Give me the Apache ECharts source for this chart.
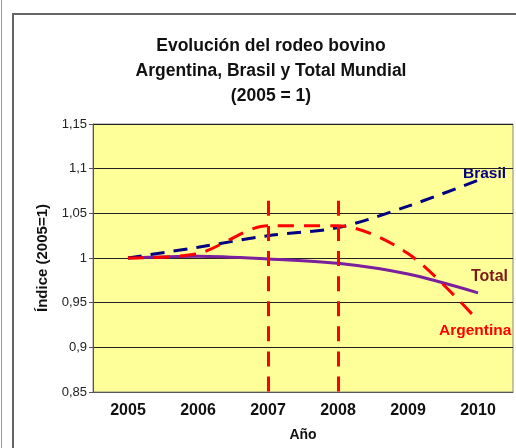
<!DOCTYPE html>
<html><head><meta charset="utf-8">
<script src="https://cdn.jsdelivr.net/npm/echarts@6/dist/echarts.min.js"></script>
<style>html,body{margin:0;padding:0;background:#fff}#c{width:516px;height:448px}</style>
</head><body><div id="c"></div>
<script>
const years = ['2005','2006','2007','2008','2009','2010'];
const brasil = [1.000, 1.012, 1.025, 1.034, 1.058, 1.087];
const argentina = [1.000, 1.005, 1.036, 1.036, 1.005, 0.930];
const total = [1.000, 1.002, 0.999, 0.994, 0.982, 0.961];
const yTicks = ['1,15','1,1','1,05','1','0,95','0,9','0,85'];
const markYears = ['2007','2008'];
const markRange = [1.064, 0.85];
const titleLines = ['Evolución del rodeo bovino','Argentina, Brasil y Total Mundial','(2005 = 1)'];
const seriesLabels = ['Brasil','Total','Argentina'];

const chart = echarts.init(document.getElementById('c'));
const F = 'Liberation Sans, Arial, sans-serif';
chart.setOption({
  animation:false,
  backgroundColor:'#fff',
  graphic:[
    {type:'line', shape:{x1:1.5,y1:0,x2:1.5,y2:448}, style:{stroke:'#999',lineWidth:1}},
    {type:'rect', shape:{x:13,y:14,width:520,height:450}, style:{fill:'none',stroke:'#666',lineWidth:2}},
    {type:'text', x:271, y:34, style:{text:titleLines.join('\n'), font:'bold 17.5px '+F, fill:'#111', align:'center', lineHeight:25}},
    {type:'text', x:463, y:166, style:{text:seriesLabels[0], font:'bold 15.5px '+F, fill:'#000080'}},
    {type:'text', x:471, y:269, style:{text:seriesLabels[1], font:'bold 16px '+F, fill:'#7a1a1a'}},
    {type:'text', x:439, y:323, style:{text:seriesLabels[2], font:'bold 15.5px '+F, fill:'#ff0000'}}
  ],
  grid:{left:93, right:3, top:124, bottom:56, show:true, backgroundColor:'#ffff99', borderColor:'#888', borderWidth:1},
  xAxis:{type:'category', data:years, boundaryGap:true,
    name:'Año', nameLocation:'middle', nameGap:36,
    nameTextStyle:{fontFamily:F, fontWeight:'bold', fontSize:14, color:'#111'},
    axisLine:{lineStyle:{color:'#555'}}, axisTick:{show:false},
    axisLabel:{fontFamily:F, fontWeight:'bold', fontSize:16, color:'#111', margin:11}},
  yAxis:{type:'value', min:0.85, max:1.15, interval:0.05,
    name:'Índice (2005=1)', nameLocation:'middle', nameGap:42, nameRotate:90,
    nameTextStyle:{fontFamily:F, fontWeight:'bold', fontSize:15, color:'#111'},
    axisLine:{show:true, lineStyle:{color:'#555'}}, axisTick:{show:true, length:4, lineStyle:{color:'#555'}},
    splitLine:{lineStyle:{color:'#222', width:1}},
    axisLabel:{fontFamily:F, fontSize:13, color:'#222', margin:6,
      formatter:v=>{const i=Math.round((1.15-v)/0.05); return yTicks[i]!==undefined?yTicks[i]:'';}}},
  series:[
    {name:'Total', type:'line', data:total, smooth:0.3, symbol:'none',
      lineStyle:{color:'#7b1f9e', width:3}},
    {name:'Brasil', type:'line', data:brasil, smooth:0.3, symbol:'none',
      lineStyle:{color:'#000080', width:3, type:[14,9]}},
    {name:'Argentina', type:'line', data:argentina, smooth:0.3, symbol:'none',
      lineStyle:{color:'#ff0000', width:3, type:[16,10]},
      markLine:{silent:true, symbol:'none', label:{show:false},
        lineStyle:{color:'#ff0000', width:3, type:[15,10.1]},
        data: markYears.map(y=>[{coord:[y, markRange[0]]},{coord:[y, markRange[1]]}])}}
  ]
});
</script></body></html>
